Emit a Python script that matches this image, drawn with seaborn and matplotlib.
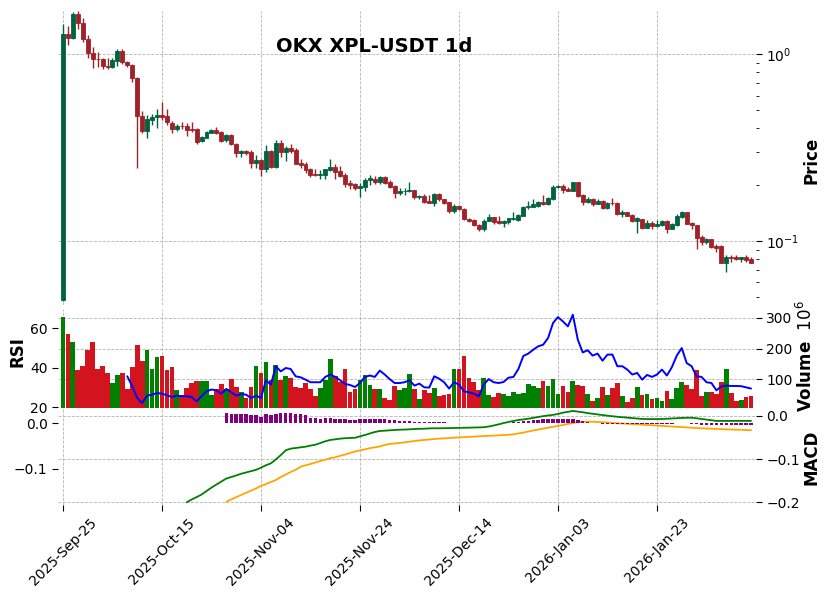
import numpy as np
import pandas as pd
import matplotlib
matplotlib.use("Agg")
import matplotlib.pyplot as plt
import seaborn as sns
from matplotlib.ticker import LogLocator, NullFormatter, FixedLocator, FuncFormatter

# ---------------- data ----------------
opens = [0.0484, 1.274, 1.222, 1.630, 1.460, 1.198, 1.016, 0.940, 0.935, 0.866,
         0.855, 0.920, 1.037, 0.910, 0.874, 0.741, 0.468, 0.387, 0.444, 0.458,
         0.472, 0.465, 0.430, 0.398, 0.412, 0.412, 0.395, 0.395, 0.341, 0.357,
         0.380, 0.392, 0.383, 0.346, 0.369, 0.330, 0.294, 0.303, 0.299, 0.262,
         0.271, 0.243, 0.303, 0.249, 0.333, 0.301, 0.314, 0.307, 0.262, 0.257,
         0.242, 0.228, 0.226, 0.226, 0.240, 0.248, 0.236, 0.225, 0.204, 0.202,
         0.193, 0.195, 0.211, 0.215, 0.207, 0.220, 0.206, 0.197, 0.181, 0.1855,
         0.184, 0.187, 0.171, 0.174, 0.163, 0.160, 0.178, 0.167, 0.161, 0.1446,
         0.154, 0.148, 0.1315, 0.130, 0.1225, 0.116, 0.128, 0.134, 0.1285, 0.1255,
         0.127, 0.1315, 0.1295, 0.1365, 0.1513, 0.1525, 0.154, 0.1616, 0.158, 0.168,
         0.194, 0.197, 0.189, 0.186, 0.2068, 0.1762, 0.1616, 0.167, 0.158, 0.1637,
         0.151, 0.160, 0.1604, 0.1398, 0.1429, 0.1377, 0.128, 0.131, 0.118, 0.125,
         0.121, 0.122, 0.128, 0.1165, 0.122, 0.1346, 0.1429, 0.1254, 0.1218, 0.1048,
         0.099, 0.1024, 0.0942, 0.0937, 0.0764, 0.0819, 0.0825, 0.0806, 0.0822, 0.0806]
highs = [1.447, 1.417, 1.680, 1.700, 1.550, 1.264, 1.086, 1.030, 0.948, 0.948,
         0.950, 1.060, 1.070, 0.920, 0.880, 0.757, 0.496, 0.472, 0.480, 0.506,
         0.556, 0.506, 0.440, 0.420, 0.431, 0.430, 0.431, 0.400, 0.366, 0.387,
         0.396, 0.405, 0.387, 0.375, 0.373, 0.335, 0.307, 0.305, 0.307, 0.288,
         0.276, 0.326, 0.307, 0.349, 0.349, 0.322, 0.329, 0.314, 0.273, 0.266,
         0.247, 0.242, 0.240, 0.244, 0.273, 0.258, 0.253, 0.230, 0.212, 0.204,
         0.204, 0.216, 0.225, 0.222, 0.222, 0.222, 0.212, 0.199, 0.191, 0.191,
         0.206, 0.188, 0.176, 0.178, 0.176, 0.180, 0.180, 0.168, 0.162, 0.157,
         0.156, 0.151, 0.133, 0.1315, 0.124, 0.1305, 0.139, 0.135, 0.136, 0.1295,
         0.133, 0.1435, 0.139, 0.153, 0.1634, 0.167, 0.164, 0.1762, 0.172, 0.1993,
         0.1993, 0.202, 0.195, 0.2075, 0.2075, 0.178, 0.172, 0.169, 0.167, 0.1657,
         0.1616, 0.1693, 0.161, 0.1465, 0.1435, 0.139, 0.134, 0.1315, 0.1295, 0.128,
         0.1295, 0.129, 0.129, 0.1245, 0.139, 0.1453, 0.1435, 0.127, 0.1218, 0.1077,
         0.104, 0.1025, 0.0963, 0.095, 0.0842, 0.0842, 0.0842, 0.0825, 0.0842, 0.0818]
lows = [0.0475, 1.117, 1.200, 1.360, 1.155, 0.948, 0.839, 0.849, 0.831, 0.830,
        0.845, 0.860, 0.884, 0.850, 0.706, 0.246, 0.376, 0.357, 0.417, 0.401,
        0.444, 0.417, 0.380, 0.389, 0.397, 0.366, 0.381, 0.332, 0.337, 0.354,
        0.377, 0.375, 0.339, 0.340, 0.326, 0.280, 0.280, 0.288, 0.247, 0.245,
        0.222, 0.235, 0.247, 0.247, 0.280, 0.269, 0.297, 0.257, 0.245, 0.230,
        0.220, 0.222, 0.214, 0.215, 0.237, 0.214, 0.221, 0.194, 0.189, 0.187,
        0.172, 0.186, 0.199, 0.201, 0.201, 0.202, 0.191, 0.170, 0.176, 0.176,
        0.183, 0.167, 0.167, 0.160, 0.160, 0.153, 0.164, 0.158, 0.141, 0.1415,
        0.1465, 0.1295, 0.127, 0.120, 0.1125, 0.1125, 0.1275, 0.124, 0.1234, 0.1185,
        0.124, 0.1295, 0.1285, 0.136, 0.149, 0.1513, 0.1525, 0.1558, 0.1558, 0.1657,
        0.192, 0.180, 0.184, 0.184, 0.172, 0.1555, 0.160, 0.154, 0.157, 0.149,
        0.149, 0.1558, 0.1377, 0.1345, 0.1366, 0.1264, 0.111, 0.1165, 0.1168, 0.1165,
        0.119, 0.121, 0.1108, 0.1155, 0.121, 0.1334, 0.1226, 0.1165, 0.0908, 0.0952,
        0.0963, 0.092, 0.0873, 0.0764, 0.0686, 0.0775, 0.0791, 0.0772, 0.0775, 0.0758]
closes = [1.279, 1.222, 1.630, 1.460, 1.198, 1.016, 0.937, 0.935, 0.866, 0.850,
          0.929, 1.037, 0.910, 0.874, 0.741, 0.468, 0.387, 0.448, 0.462, 0.472,
          0.460, 0.431, 0.398, 0.412, 0.410, 0.394, 0.393, 0.338, 0.360, 0.383,
          0.392, 0.378, 0.343, 0.369, 0.329, 0.294, 0.303, 0.297, 0.262, 0.271,
          0.243, 0.303, 0.249, 0.333, 0.301, 0.316, 0.303, 0.259, 0.255, 0.240,
          0.225, 0.226, 0.228, 0.242, 0.248, 0.235, 0.223, 0.2025, 0.200, 0.191,
          0.197, 0.212, 0.216, 0.207, 0.219, 0.205, 0.195, 0.181, 0.186, 0.186,
          0.187, 0.171, 0.174, 0.162, 0.160, 0.178, 0.167, 0.160, 0.1446, 0.154,
          0.148, 0.131, 0.128, 0.1218, 0.116, 0.1285, 0.134, 0.126, 0.1255, 0.1285,
          0.132, 0.1325, 0.1377, 0.1513, 0.154, 0.157, 0.1616, 0.158, 0.169, 0.1945,
          0.197, 0.1874, 0.186, 0.2068, 0.1747, 0.1616, 0.1675, 0.158, 0.1637, 0.151,
          0.160, 0.159, 0.1398, 0.1429, 0.1366, 0.128, 0.1327, 0.118, 0.1243, 0.121,
          0.1236, 0.128, 0.1165, 0.1236, 0.1366, 0.1429, 0.1238, 0.1213, 0.1035, 0.099,
          0.1024, 0.093, 0.092, 0.0764, 0.0819, 0.0815, 0.0806, 0.0822, 0.0791, 0.0764]
volume_m = [303, 248, 223, 129, 142, 197, 223, 132, 142, 119,
            87, 113, 119, 68, 139, 213, 161, 194, 135, 171,
            177, 129, 139, 65, 48, 71, 87, 94, 94, 94,
            48, 68, 84, 68, 100, 74, 58, 39, 74, 142,
            119, 155, 97, 148, 97, 110, 103, 74, 71, 87,
            68, 45, 71, 97, 165, 110, 90, 132, 58, 68,
            97, 113, 81, 68, 68, 39, 32, 77, 65, 71,
            116, 68, 35, 65, 55, 71, 45, 48, 52, 135,
            135, 177, 103, 90, 65, 103, 48, 42, 55, 52,
            45, 58, 52, 55, 84, 77, 71, 94, 77, 100,
            52, 77, 58, 94, 81, 77, 52, 29, 39, 74,
            48, 71, 87, 45, 26, 39, 74, 48, 52, 35,
            39, 29, 61, 35, 71, 90, 81, 68, 129, 45,
            58, 58, 52, 90, 132, 55, 29, 32, 42, 45]
# RSI starts at bar 13
rsi = [35.7, 30.6, 24.7, 22.2, 25.9, 26.4, 27.2, 26.9, 26.1, 25.2,
       25.9, 25.6, 25.6, 25.2, 23.0, 25.6, 28.1, 29.0, 28.6, 26.9,
       29.3, 27.6, 25.9, 26.7, 26.4, 24.7, 25.9, 24.7, 33.7, 31.5,
       40.8, 38.2, 39.9, 39.4, 35.7, 35.2, 34.0, 32.7, 32.7, 32.7,
       35.4, 36.6, 35.4, 33.7, 31.8, 31.3, 30.3, 32.3, 35.4, 36.1,
       35.4, 38.6, 36.6, 34.3, 32.3, 32.3, 32.7, 33.7, 31.0, 32.0,
       30.1, 30.0, 35.7, 34.5, 32.7, 29.5, 32.7, 31.5, 28.1, 27.6,
       26.9, 25.6, 31.5, 34.3, 32.7, 32.3, 32.8, 35.0, 35.4, 39.4,
       46.0, 47.2, 49.2, 50.9, 51.7, 55.1, 62.7, 65.7, 63.5, 61.0,
       66.9, 54.3, 47.8, 48.9, 46.2, 47.2, 43.6, 46.7, 46.7, 40.8,
       40.8, 39.1, 36.6, 37.4, 34.0, 36.4, 35.4, 36.6, 39.1, 36.1,
       40.3, 46.2, 50.0, 42.4, 40.8, 35.7, 35.4, 32.7, 32.3, 28.6,
       30.6, 31.0, 30.8, 30.8, 30.7, 30.1, 29.5]
# MACD line starts at bar 25
macd = [-0.200, -0.1935, -0.188, -0.182, -0.174, -0.166, -0.159, -0.152, -0.145, -0.1416,
        -0.138, -0.134, -0.131, -0.128, -0.125, -0.120, -0.1145, -0.110, -0.101, -0.091,
        -0.080, -0.076, -0.0746, -0.073, -0.0716, -0.069, -0.067, -0.063, -0.059, -0.056,
        -0.0545, -0.053, -0.052, -0.0515, -0.051, -0.0476, -0.0446, -0.041, -0.0376, -0.0353,
        -0.0346, -0.0337, -0.033, -0.0323, -0.032, -0.0315, -0.0307, -0.0303, -0.030, -0.0293,
        -0.029, -0.029, -0.0288, -0.0286, -0.0284, -0.028, -0.0278, -0.0276, -0.0273, -0.027,
        -0.0266, -0.025, -0.0226, -0.020, -0.017, -0.0145, -0.012, -0.010, -0.0085, -0.007,
        -0.005, -0.003, -0.001, 0.0005, 0.002, 0.004, 0.007, 0.009, 0.011, 0.0095,
        0.008, 0.006, 0.0045, 0.003, 0.0015, 0.0, -0.0012, -0.0025, -0.0035, -0.0045,
        -0.0055, -0.0065, -0.0075, -0.0077, -0.0078, -0.0078, -0.0076, -0.007, -0.0064, -0.0058,
        -0.0052, -0.0048, -0.0046, -0.006, -0.0075, -0.009, -0.0105, -0.012, -0.012, -0.012,
        -0.012, -0.012, -0.012, -0.012, -0.012]
# signal line and histogram start at bar 33
signal = [-0.1986, -0.1935, -0.188, -0.183, -0.178, -0.173, -0.168, -0.162, -0.158, -0.153,
          -0.1485, -0.1416, -0.136, -0.130, -0.125, -0.118, -0.1145, -0.1115, -0.108, -0.1046,
          -0.1016, -0.098, -0.096, -0.0926, -0.0896, -0.086, -0.0827, -0.080, -0.0776, -0.075,
          -0.073, -0.071, -0.0677, -0.065, -0.064, -0.063, -0.0614, -0.060, -0.0584, -0.057,
          -0.056, -0.055, -0.0538, -0.053, -0.0523, -0.0515, -0.0508, -0.050, -0.0495, -0.049,
          -0.0483, -0.0476, -0.047, -0.0465, -0.046, -0.0453, -0.0446, -0.044, -0.043, -0.041,
          -0.039, -0.0365, -0.034, -0.032, -0.0296, -0.0277, -0.0254, -0.0238, -0.0215, -0.019,
          -0.0169, -0.0152, -0.014, -0.0136, -0.0139, -0.0145, -0.015, -0.0157, -0.0169, -0.0175,
          -0.018, -0.0187, -0.0194, -0.020, -0.0207, -0.0214, -0.022, -0.023, -0.0236, -0.0243,
          -0.025, -0.0256, -0.0263, -0.027, -0.0277, -0.0284, -0.029, -0.0295, -0.030, -0.0305,
          -0.031, -0.0314, -0.0318, -0.0322, -0.0326, -0.033, -0.0335]
histogram = [0.024, 0.022, 0.020, 0.020, 0.020, 0.018, 0.018, 0.015, 0.020, 0.018,
             0.022, 0.024, 0.024, 0.024, 0.022, 0.020, 0.018, 0.013, 0.013, 0.011,
             0.013, 0.012, 0.011, 0.010, 0.010, 0.007, 0.007, 0.009, 0.009, 0.009,
             0.010, 0.010, 0.009, 0.007, 0.007, 0.006, 0.006, 0.006, 0.004, 0.004,
             0.004, 0.004, 0.003, 0.003, 0.003, 0.001, 0.001, 0.001, 0.001, 0.001,
             0.0004, 0.0004, 0.0004, 0.001, 0.001, 0.001, 0.001, 0.002, 0.003, 0.004,
             0.005, 0.006, 0.007, 0.008, 0.009, 0.010, 0.011, 0.011, 0.011, 0.011,
             0.010, 0.008, 0.006, 0.004, 0.002, 0.0005, -0.001, -0.001, -0.001, -0.001,
             -0.001, -0.002, -0.002, -0.002, -0.002, -0.002, -0.002, -0.002, -0.002, -0.001,
             -0.001, 0.001, 0.001, 0.0004, -0.001, -0.002, -0.003, -0.003, -0.003, -0.003,
             -0.003, -0.003, -0.003, -0.003, -0.003, -0.003, -0.003]
start_date = "2025-09-25"
title = "OKX XPL-USDT 1d"

# ---------------- styling ----------------
UP, DOWN = "#006340", "#a02128"
VUP, VDOWN = "#008000", "#d3141e"
GRID = dict(color="#b4b4b4", linestyle="--", linewidth=0.6)

sns.set_theme(style="white")
plt.rcParams["font.family"] = ["DejaVu Sans"]
plt.rcParams["text.color"] = "black"
plt.rcParams["xtick.color"] = "black"
plt.rcParams["ytick.color"] = "black"

n = len(closes)
idx = np.arange(n)
dates = pd.date_range(start_date, periods=n, freq="D")
o, h, l, c = map(np.asarray, (opens, highs, lows, closes))
up = c >= o
ccol = np.where(up, UP, DOWN)
vcol = np.where(up, VUP, VDOWN)

W, H = 832, 599
fig = plt.figure(figsize=(W / 100, H / 100), dpi=100)


def rect(x0, y0, x1, y1):
    return [x0 / W, 1 - y1 / H, (x1 - x0) / W, (y1 - y0) / H]


ax_p = fig.add_axes(rect(58, 11, 756, 304.5))
ax_v = fig.add_axes(rect(58, 309, 756, 407.5))
ax_m = fig.add_axes(rect(58, 408, 756, 505))
ax_r = ax_v.twinx()
ax_h = ax_m.twinx()

for ax in (ax_p, ax_v, ax_m, ax_r, ax_h):
    for s in ax.spines.values():
        s.set_visible(False)
    ax.set_xlim(-1, n)
    ax.tick_params(labelsize=10, length=4, width=0.8)

# ---- price panel ----
ax_p.set_yscale("log")
ax_p.vlines(idx, l, h, colors=ccol, linewidth=1.0, zorder=2)
ax_p.bar(idx, np.abs(c - o), bottom=np.minimum(o, c), width=0.8, color=ccol,
         edgecolor=ccol, linewidth=0.6, zorder=3)
ax_p.set_ylim(0.04574, 1.699)
ax_p.yaxis.tick_right()
ax_p.yaxis.set_major_locator(LogLocator(base=10))
ax_p.yaxis.set_minor_locator(LogLocator(base=10, subs=np.arange(2, 10)))
ax_p.yaxis.set_minor_formatter(NullFormatter())
ax_p.tick_params(axis="y", which="minor", length=2.5, width=0.6)
ax_p.tick_params(axis="x", which="both", bottom=False, labelbottom=False)
ax_p.grid(True, which="major", **GRID)

# ---- volume + RSI panel ----
ax_v.bar(idx, volume_m, width=0.95, color=vcol, linewidth=0, zorder=2)
ax_v.set_ylim(8.1, 329)
ax_v.yaxis.tick_right()
ax_v.yaxis.set_major_locator(FixedLocator([100, 200, 300]))
ax_v.yaxis.set_major_formatter(FuncFormatter(lambda v, p: f"{v:.0f}"))
ax_v.tick_params(axis="x", bottom=False, labelbottom=False)
ax_v.grid(True, **GRID)

rsi_x = idx[n - len(rsi):]
sns.lineplot(x=rsi_x, y=rsi, ax=ax_r, color="blue", linewidth=1.4, legend=False)
ax_r.set_ylim(19.9, 69.8)
ax_r.yaxis.tick_left()
ax_r.yaxis.set_major_locator(FixedLocator([20, 40, 60]))
ax_r.set_ylabel("")
ax_r.tick_params(axis="x", bottom=False, labelbottom=False)

# ---- MACD panel ----
macd_x = idx[n - len(macd):]
sig_x = idx[n - len(signal):]
hist_x = idx[n - len(histogram):]
sns.lineplot(x=macd_x, y=macd, ax=ax_m, color="green", linewidth=1.3, legend=False)
sns.lineplot(x=sig_x, y=signal, ax=ax_m, color="orange", linewidth=1.3, legend=False)
ax_m.set_ylim(-0.2062, 0.0178)
ax_m.yaxis.tick_right()
ax_m.yaxis.set_major_locator(FixedLocator([0.0, -0.1, -0.2]))
ax_m.yaxis.set_major_formatter(FuncFormatter(lambda v, p: f"{v:.1f}".replace("-", "\u2212")))
ax_m.set_ylabel("")
ax_m.grid(True, **GRID)

ax_h.bar(hist_x, histogram, width=0.7, color="purple", linewidth=0, zorder=2)
ax_h.set_ylim(-0.18, 0.0342)
ax_h.yaxis.tick_left()
ax_h.yaxis.set_major_locator(FixedLocator([0.0, -0.1]))
ax_h.yaxis.set_major_formatter(FuncFormatter(lambda v, p: f"{v:.1f}".replace("-", "\u2212")))
ax_h.tick_params(axis="x", bottom=False, labelbottom=False)

# x ticks
tick_pos = idx[::20]
tick_lab = [dates[i].strftime("%Y-%b-%d") for i in tick_pos]
for ax in (ax_p, ax_v, ax_m):
    ax.xaxis.set_major_locator(FixedLocator(tick_pos))
    ax.grid(True, axis="x", **GRID)
ax_m.set_xticklabels(tick_lab, rotation=45, ha="center", fontsize=10)
ax_m.tick_params(axis="x", bottom=True, labelbottom=True, length=4)

# labels
fig.text(374.5 / W, 1 - 47 / H, title, ha="center", va="center", fontsize=14, fontweight="bold")
fig.text(812 / W, 1 - 160 / H, "Price", rotation=90, ha="center", va="center", fontsize=12, fontweight="bold")
fig.text(18 / W, 1 - 352 / H, "RSI", rotation=90, ha="center", va="center", fontsize=12, fontweight="bold")
fig.text(806 / W, 1 - 356 / H, "Volume  $10^{6}$", rotation=90, ha="center", va="center", fontsize=12, fontweight="bold")
fig.text(812 / W, 1 - 457 / H, "MACD", rotation=90, ha="center", va="center", fontsize=12, fontweight="bold")

fig.savefig("out.png", dpi=100)
